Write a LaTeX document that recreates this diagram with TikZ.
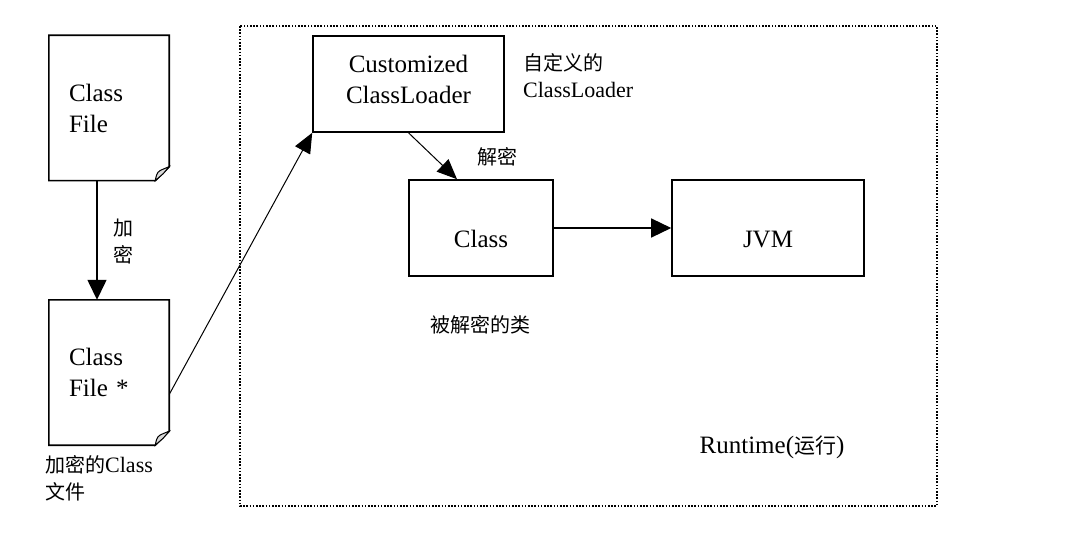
\documentclass[tikz,border=0pt]{standalone}
\usepackage{fontspec}
\setmainfont{Liberation Serif}
\newfontfamily\cjk{Noto Sans CJK SC}
\usepackage{tikz}
\usetikzlibrary{positioning,arrows.meta}

\tikzset{
	boxline/.style={line width=1.6pt, line join=miter},
	plainbox/.style={draw, boxline, rectangle, inner sep=0pt, font=\fontsize{25}{31}\selectfont},
	docbox/.style={rectangle, inner ysep=0pt, inner xsep=20pt, text width=80pt, align=left,
		minimum width=120pt, minimum height=145pt, font=\fontsize{25}{31}\selectfont},
	arr/.style={line width=1.4pt, -{Triangle[length=20pt,width=19pt]}},
	thinarr/.style={line width=1pt, -{Triangle[length=20pt,width=17pt]}},
	note/.style={inner sep=0pt, font=\fontsize{20}{27}\selectfont},
	frame/.style={line width=1.6pt, dash pattern=on 1.6pt off 1.6pt}
}

\newcommand{\docframe}[1]{%
	\draw[boxline] (#1.north west) -- (#1.north east) -- ([yshift=14pt]#1.south east)
		-- ([xshift=-14pt]#1.south east) -- (#1.south west) -- cycle;
	\draw[line width=1pt, fill=gray!30] ([xshift=-14pt]#1.south east)
		.. controls ([xshift=-12pt,yshift=9pt]#1.south east) .. ([xshift=-5pt,yshift=12pt]#1.south east)
		-- ([yshift=14pt]#1.south east) -- ([xshift=-6pt,yshift=7pt]#1.south east) -- cycle;
}

\begin{document}
\begin{tikzpicture}[x=1pt, y=-1pt]
	\useasboundingbox[fill=white] (0,0) rectangle (1090,540);
	\draw[frame] (240,26) rectangle (937,506);
	% documents
	\node[docbox] (plain) at (109,108) {Class\\File};
	\node[docbox] (crypt) at (109,372.5) {Class\\File *};
	\docframe{plain}
	\docframe{crypt}
	% boxes
	\node[plainbox, minimum width=191pt, minimum height=96pt, align=center, text depth=10pt] (loader) at (408.5,84) {Customized\\ClassLoader};
	\node[plainbox, minimum width=144pt, minimum height=96pt, text height=39pt, text depth=0pt] (cls) at (481,228) {Class};
	\node[plainbox, minimum width=192pt, minimum height=96pt, text height=39pt, text depth=0pt] (jvm) at (768,228) {JVM};
	% arrows
	\draw[arr] ([xshift=-12pt]plain.south) -- ([xshift=-12pt]crypt.north);
	\draw[thinarr] ([yshift=-22pt]crypt.east) -- (loader.south west);
	\draw[thinarr] (loader.south) -- ([xshift=-24pt]cls.north);
	\draw[arr] (cls.east) -- (jvm.west);
	% labels
	\node[note, align=center] (enc) at (123,242) {\cjk 加\\\cjk 密};
	\node[note, anchor=north west, align=left] (enclbl) at (45,455) {{\cjk 加密的}{\fontsize{22}{27}\selectfont Class}\\\cjk 文件};
	\node[note, anchor=west, align=left] (loadlbl) at (523,76) {\cjk 自定义的\\{\fontsize{22}{27}\selectfont ClassLoader}};
	\node[note] (dec) at (497,157) {\cjk 解密};
	\node[note] (clslbl) at (480,325) {\cjk 被解密的类};
	\node[note, font=\fontsize{25}{30}\selectfont] (rt) at (772,447) {Runtime({\cjk\fontsize{21}{26}\selectfont 运行})};
\end{tikzpicture}
\end{document}
